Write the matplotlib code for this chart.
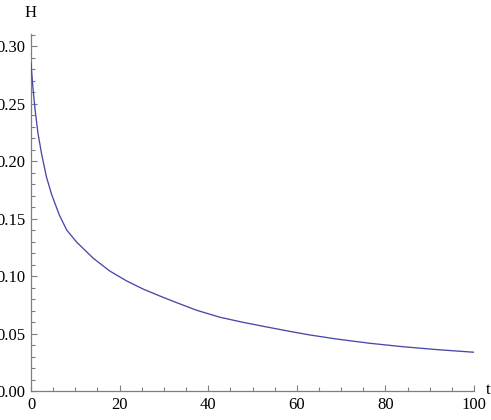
import matplotlib
matplotlib.use("Agg")
import matplotlib.pyplot as plt
import matplotlib.ticker as ticker
from matplotlib import rcParams

rcParams["font.family"] = "Liberation Serif"

# --- values
t_vals = [0, 0.45, 0.97, 1.58, 2.4, 3.5, 4.65, 6.4, 8.06, 10.3, 14.07, 17.8,
          21.6, 25.35, 29.1, 32.1, 37.4, 42.7, 47.9, 53.2, 58.5, 63.0, 69,
          76.5, 84, 91.6, 100]
h_vals = [0.285, 0.263, 0.243, 0.224, 0.206, 0.186, 0.171, 0.153, 0.140,
          0.1295, 0.1154, 0.1043, 0.0957, 0.0886, 0.0826, 0.0780, 0.0702,
          0.0641, 0.0597, 0.0557, 0.0518, 0.0487, 0.0452, 0.0415, 0.0385,
          0.036, 0.0337]

x_ticks = [0, 20, 40, 60, 80, 100]
y_ticks = [0.00, 0.05, 0.10, 0.15, 0.20, 0.25, 0.30]

axis_color = "#7f7f7f"
line_color = "#4848aa"

fig = plt.figure(figsize=(4.91, 4.20), dpi=100)
ax = fig.add_axes([31 / 491, 29 / 420, 443 / 491, 357 / 420])

ax.plot(t_vals, h_vals, color=line_color, lw=0.95, zorder=3,
        solid_joinstyle="round")

ax.set_xlim(0, 100)
ax.set_ylim(0, 0.3105)

ax.set_xticks(x_ticks)
ax.set_yticks(y_ticks)
ax.xaxis.set_major_formatter(ticker.FuncFormatter(lambda v, p: f"{v:.0f}"))
ax.yaxis.set_major_formatter(ticker.FuncFormatter(lambda v, p: f"{v:.2f}"))
ax.xaxis.set_minor_locator(ticker.MultipleLocator(5))
ax.yaxis.set_minor_locator(ticker.MultipleLocator(0.01))

for s in ["top", "right"]:
    ax.spines[s].set_visible(False)
for s in ["left", "bottom"]:
    ax.spines[s].set_color(axis_color)
    ax.spines[s].set_linewidth(0.9)

ax.tick_params(which="both", direction="in", color=axis_color, width=0.8,
               labelsize=12, labelcolor="black")
ax.tick_params(which="major", length=4.5)
ax.tick_params(which="minor", length=2.6)
ax.tick_params(axis="x", which="major", pad=4)
ax.tick_params(axis="y", which="major", pad=4)

fig.text(31 / 491, 1 - 13 / 420, "H", ha="center", va="center", fontsize=12)
fig.text(488 / 491, 1 - 390 / 420, "t", ha="center", va="center", fontsize=12)

plt.savefig("out.png", dpi=100, facecolor="white")
